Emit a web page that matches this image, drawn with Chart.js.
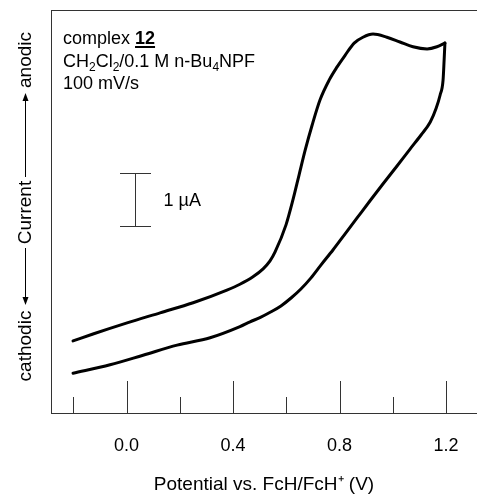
<!DOCTYPE html>
<html>
<head>
<meta charset="utf-8">
<script src="https://cdn.jsdelivr.net/npm/chart.js@4"></script>
<style>
html,body{margin:0;padding:0;background:#fff;}
#wrap{width:477px;height:494px;position:relative;}
</style>
</head>
<body>
<div id="wrap"><canvas id="cv" width="477" height="494"></canvas></div>
<script>
// potential (V) and current (uA), forward then reverse scan
const fwdV = [-0.201,-0.126,0.002,0.126,0.250,0.377,0.426,0.475,0.513,0.539,0.558,0.599,0.625,0.648,0.671,0.697,0.727,0.761,0.791,0.821,0.855,0.888,0.926,0.978,1.027,1.076,1.129,1.166,1.196];
const fwdI = [1.36,1.49,1.70,1.89,2.08,2.32,2.43,2.57,2.72,2.87,3.04,3.55,4.02,4.49,4.96,5.43,5.91,6.28,6.53,6.75,6.98,7.09,7.15,7.09,7.00,6.91,6.87,6.91,6.98];
const revV = [1.196,1.193,1.189,1.178,1.163,1.141,1.107,1.065,1.016,0.963,0.914,0.866,0.821,0.776,0.730,0.693,0.655,0.618,0.580,0.543,0.501,0.464,0.426,0.314,0.190,0.062,-0.062,-0.201];
const revI = [6.98,6.66,6.28,6.00,5.75,5.49,5.25,4.98,4.66,4.32,4.00,3.68,3.38,3.08,2.79,2.55,2.34,2.17,2.02,1.91,1.80,1.72,1.63,1.42,1.28,1.09,0.91,0.75];
const xTicks = [-0.2,0,0.2,0.4,0.6,0.8,1.0,1.2];
const xLabels = ["","0.0","","0.4","","0.8","","1.2"];
const scaleBarV = 0.032, scaleBarI = [3.53,4.53];

const FONT = "'Liberation Sans', Arial, sans-serif";
const toPts = (xs,ys)=>xs.map((v,i)=>({x:v,y:ys[i]}));

function runs(ctx,x,y,parts){
  for(const p of parts){
    const size=p.sub?12:18;
    ctx.font=(p.bold?"bold ":"")+size+"px "+FONT;
    ctx.fillText(p.t,x,y+(p.sub?4:0));
    const w=ctx.measureText(p.t).width;
    if(p.u){ctx.fillRect(x,y+2,w,2);}
    x+=w;
  }
}

function arrow(ctx,x,y1,y2){
  // line from y1 to y2 with head at y2
  const d=y2>y1?1:-1;
  ctx.beginPath();ctx.moveTo(x,y1);ctx.lineTo(x,y2-d*6);ctx.stroke();
  ctx.beginPath();ctx.moveTo(x,y2);ctx.lineTo(x-3,y2-d*8);ctx.lineTo(x+3,y2-d*8);ctx.closePath();ctx.fill();
}

const decor = {
  id:"decor",
  afterDraw(chart){
    const {ctx,chartArea:a,scales:{x,y}}=chart;
    ctx.save();
    ctx.strokeStyle="#333";ctx.fillStyle="#000";ctx.lineWidth=1;
    // frame: left, top, bottom (no right edge)
    ctx.beginPath();
    ctx.moveTo(a.left+0.5,a.top+0.5);ctx.lineTo(a.left+0.5,a.bottom+0.5);
    ctx.moveTo(a.left,a.top+0.5);ctx.lineTo(a.right,a.top+0.5);
    ctx.moveTo(a.left,a.bottom+0.5);ctx.lineTo(a.right,a.bottom+0.5);
    ctx.stroke();
    // inward ticks, long ones where labelled
    ctx.beginPath();
    xTicks.forEach((v,i)=>{
      const px=Math.round(x.getPixelForValue(v))+0.5;
      const len=xLabels[i]?32:16;
      ctx.moveTo(px,a.bottom);ctx.lineTo(px,a.bottom-len);
    });
    ctx.stroke();
    ctx.textBaseline="alphabetic";ctx.textAlign="left";
    runs(ctx,63,44,[{t:"complex "},{t:"12",bold:true,u:true}]);
    runs(ctx,63,66.5,[{t:"CH"},{t:"2",sub:true},{t:"Cl"},{t:"2",sub:true},{t:"/0.1 M n-Bu"},{t:"4",sub:true},{t:"NPF"}]);
    runs(ctx,63,88.5,[{t:"100 mV/s"}]);
    // 1 uA scale bar
    const bx=Math.round(x.getPixelForValue(scaleBarV))+0.5;
    const b0=Math.round(y.getPixelForValue(scaleBarI[0]))+0.5, b1=Math.round(y.getPixelForValue(scaleBarI[1]))+0.5;
    ctx.beginPath();
    ctx.moveTo(bx,b0);ctx.lineTo(bx,b1);
    ctx.moveTo(bx-15.5,b0);ctx.lineTo(bx+15.5,b0);
    ctx.moveTo(bx-15.5,b1);ctx.lineTo(bx+15.5,b1);
    ctx.stroke();
    ctx.font="18px "+FONT;ctx.textBaseline="middle";
    ctx.fillText("1 \u00B5A",bx+28,(b0+b1)/2+1);
    // rotated y title with arrows
    ctx.textAlign="center";ctx.font="19px "+FONT;
    const tx=25;
    [["cathodic",346],["Current",212.5],["anodic",60]].forEach(([t,cy])=>{
      ctx.save();ctx.translate(tx+1,cy);ctx.rotate(-Math.PI/2);ctx.fillText(t,0,0);ctx.restore();
    });
    ctx.strokeStyle="#000";
    arrow(ctx,tx+0.5,248,305);
    arrow(ctx,tx+0.5,177,93);
    ctx.restore();
  }
};

const lineStyle={showLine:true,borderColor:"#000",borderWidth:3,pointRadius:0,cubicInterpolationMode:"monotone",borderJoinStyle:"round",borderCapStyle:"round"};

new Chart(document.getElementById("cv"),{
  type:"scatter",
  data:{datasets:[
    {...lineStyle,data:toPts(fwdV,fwdI)},
    {...lineStyle,data:toPts(revV,revI)}
  ]},
  options:{
    responsive:false,animation:false,devicePixelRatio:1,
    layout:{padding:{left:51,right:0,top:10,bottom:0}},
    plugins:{legend:{display:false},tooltip:{enabled:false}},
    scales:{
      x:{type:"linear",min:-0.2838,max:1.3165,
        afterBuildTicks:s=>{s.ticks=xTicks.map(v=>({value:v}));},
        afterFit:s=>{s.height=81;s.paddingLeft=0;s.paddingRight=0;},
        grid:{display:false,drawTicks:false},border:{display:false},
        ticks:{autoSkip:false,maxRotation:0,padding:22,color:"#000",font:{family:FONT,size:18},callback:(v,i)=>xLabels[i]},
        title:{display:true,text:"Potential vs. FcH/FcH\u207A (V)",color:"#000",font:{family:FONT,size:19,lineHeight:1},padding:0}
      },
      y:{type:"linear",min:0,max:7.604,display:false}
    }
  },
  plugins:[decor]
});
</script>
</body>
</html>
